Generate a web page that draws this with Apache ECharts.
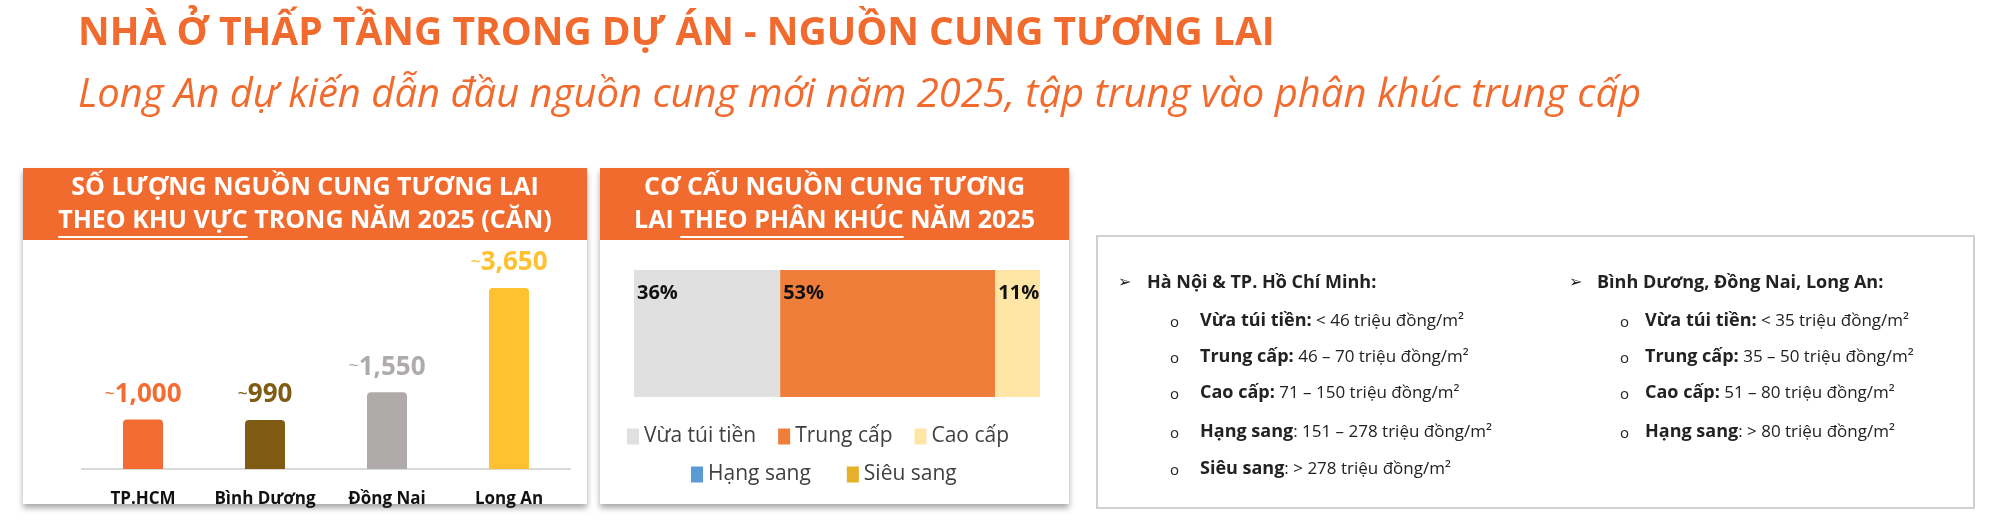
<!DOCTYPE html>
<html><head><meta charset="utf-8">
<script src="https://cdn.jsdelivr.net/npm/echarts@6/dist/echarts.min.js"></script>
<style>html,body{margin:0;padding:0;background:#fff}#c{width:2000px;height:532px}</style>
</head><body><div id="c"></div>
<script>
const regions = ['TP.HCM', 'Bình Dương', 'Đồng Nai', 'Long An'];
const regionValues = [1000, 990, 1550, 3650];
const regionLabels = ['1,000', '990', '1,550', '3,650'];
const regionColors = ['#F36C32', '#7F5B14', '#AFABAB', '#FFC12F'];
const segments = ['Vừa túi tiền', 'Trung cấp', 'Cao cấp', 'Hạng sang', 'Siêu sang'];
const segmentValues = [36, 53, 11, 0, 0];
const segmentColors = ['#E0E0E0', '#EF7E3A', '#FFE6A6', '#5B9BD5', '#E6B12A'];
const leftList = [['Vừa túi tiền:', ' < 46 triệu đồng/m²'], ['Trung cấp:', ' 46 – 70 triệu đồng/m²'], ['Cao cấp:', ' 71 – 150 triệu đồng/m²'], ['Hạng sang', ': 151 – 278 triệu đồng/m²'], ['Siêu sang', ': > 278 triệu đồng/m²']];
const rightList = [['Vừa túi tiền:', ' < 35 triệu đồng/m²'], ['Trung cấp:', ' 35 – 50 triệu đồng/m²'], ['Cao cấp:', ' 51 – 80 triệu đồng/m²'], ['Hạng sang', ': > 80 triệu đồng/m²']];
const F = '"Open Sans", Lato, sans-serif';
const OR = '#F26B2E';

const cv = document.createElement('canvas').getContext('2d');
function tw(t,font){cv.font=font;return cv.measureText(t).width;}

const chart = echarts.init(document.getElementById('c'));
const g = [];
g.push({type:'text', left:78, top:14, style:{text:'NHÀ Ở THẤP TẦNG TRONG DỰ ÁN - NGUỒN CUNG TƯƠNG LAI', font:'bold 39px '+F, fill:OR}});
g.push({type:'text', left:78, top:76, style:{text:'Long An dự kiến dẫn đầu nguồn cung mới năm 2025, tập trung vào phân khúc trung cấp', font:'italic 40px '+F, fill:OR}});
function panel(x,w,l1,l2,pre,ul){
  const hf='bold 25px '+F;
  g.push({type:'rect', shape:{x:x,y:168,width:w,height:336}, style:{fill:'#fff', shadowBlur:6, shadowOffsetY:4, shadowColor:'rgba(0,0,0,0.35)'}, z:-1});
  g.push({type:'rect', shape:{x:x,y:168,width:w,height:72}, style:{fill:OR}, z:0});
  g.push({type:'text', x:x+w/2, y:188, style:{text:l1, font:hf, fill:'#fff', align:'center', verticalAlign:'middle'}});
  g.push({type:'text', x:x+w/2, y:221, style:{text:l2, font:hf, fill:'#fff', align:'center', verticalAlign:'middle'}});
  const s = x+w/2-tw(l2,hf)/2 + tw(pre,hf);
  g.push({type:'line', shape:{x1:s,y1:237,x2:s+tw(ul,hf),y2:237}, style:{stroke:'#fff', lineWidth:2}});
}
panel(23,564,'SỐ LƯỢNG NGUỒN CUNG TƯƠNG LAI','THEO KHU VỰC TRONG NĂM 2025 (CĂN)','','THEO KHU VỰC');
panel(600,469,'CƠ CẤU NGUỒN CUNG TƯƠNG','LAI THEO PHÂN KHÚC NĂM 2025','LAI ','THEO PHÂN KHÚC');
g.push({type:'rect', shape:{x:1097,y:236,width:877,height:272}, style:{fill:'#fff', stroke:'#D0D0D0', lineWidth:2}});
function col(ax,hx,ox,tx,head,list){
  g.push({type:'text', x:ax, y:283, style:{text:'➢', font:'16px DejaVu Sans', fill:'#222', verticalAlign:'middle'}});
  g.push({type:'text', x:hx, y:283, style:{text:head, font:'bold 18px '+F, fill:'#222', verticalAlign:'middle'}});
  const ys=[321,357,393,432,469];
  list.forEach((it,i)=>{
    g.push({type:'text', x:ox, y:ys[i]+2, style:{text:'o', font:'15px '+F, fill:'#222', verticalAlign:'middle'}});
    g.push({type:'text', x:tx, y:ys[i], style:{text:'{b|'+it[0]+'}{n|'+it[1]+'}', verticalAlign:'middle', rich:{b:{font:'bold 18px '+F, fill:'#222'}, n:{font:'17px '+F, fill:'#222'}}}});
  });
}
col(1118,1147,1170,1200,'Hà Nội & TP. Hồ Chí Minh:',leftList);
col(1569,1597,1620,1645,'Bình Dương, Đồng Nai, Long An:',rightList);

chart.setOption({
  animation:false,
  graphic:g,
  grid:[{left:82,width:488,top:288,bottom:63},{left:634,width:406,top:270,bottom:135}],
  xAxis:[
    {type:'category', gridIndex:0, data:regions, axisTick:{show:false}, axisLine:{lineStyle:{color:'#D9D9D9',width:2}}, axisLabel:{interval:0, fontFamily:F, fontWeight:'bold', fontSize:17, color:'#111', margin:22}},
    {type:'value', gridIndex:1, min:0, max:100, show:false}
  ],
  yAxis:[
    {type:'value', gridIndex:0, min:0, max:3650, show:false},
    {type:'category', gridIndex:1, data:['2025'], show:false}
  ],
  legend:[
    {data:segments.slice(0,3), left:622, top:421, itemWidth:12, itemHeight:16, itemGap:22, icon:'rect', textStyle:{fontFamily:F, fontSize:21, color:'#404040'}},
    {data:segments.slice(3), left:686, top:459, itemWidth:12, itemHeight:16, itemGap:36, icon:'rect', textStyle:{fontFamily:F, fontSize:21, color:'#404040'}}
  ],
  series:[
    {type:'bar', xAxisIndex:0, yAxisIndex:0, barWidth:40,
     data:regionValues.map((v,i)=>({value:v, itemStyle:{color:regionColors[i], borderRadius:[4,4,0,0]}, label:{rich:{t:{fontSize:18,color:regionColors[i],fontFamily:F}, v:{fontSize:26,fontWeight:'bold',color:regionColors[i],fontFamily:F}}}})),
     label:{show:true, position:'top', distance:12, formatter:p=>'{t|~}{v|'+regionLabels[p.dataIndex]+'}'}}
  ].concat(segments.map((s,i)=>({
    type:'bar', name:s, stack:'s', xAxisIndex:1, yAxisIndex:1, barWidth:127,
    itemStyle:{color:segmentColors[i]}, data:[segmentValues[i]],
    label:{show:segmentValues[i]>0, position:'insideTopLeft', offset:[-2,8], formatter:'{c}%', fontFamily:F, fontWeight:'bold', fontSize:20, color:'#111'}
  })))
});
</script></body></html>
